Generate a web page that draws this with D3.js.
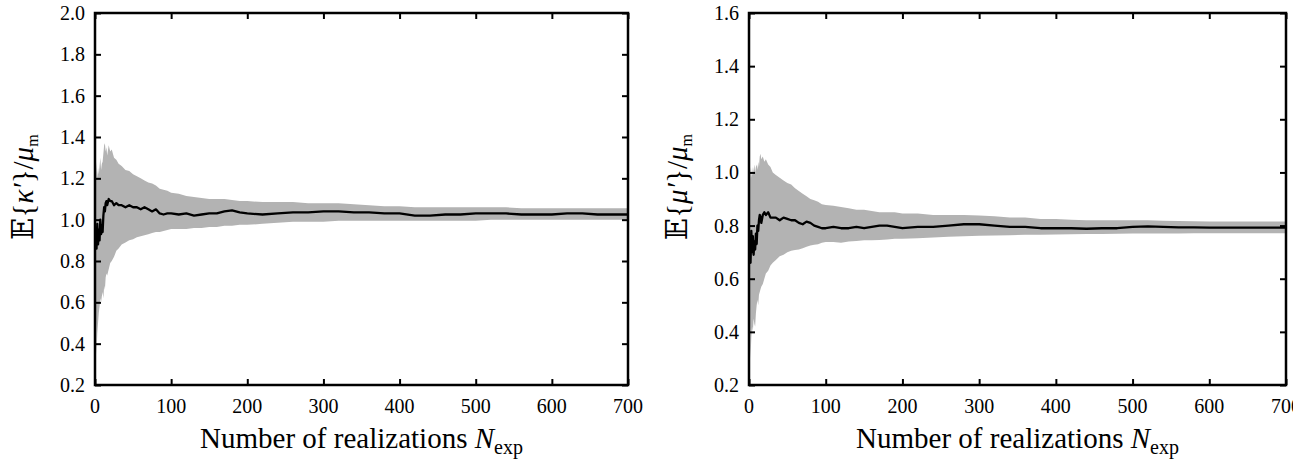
<!DOCTYPE html>
<html lang="en">
<head>
<meta charset="UTF-8">
<title>Convergence of E{kappa'} and E{mu'}</title>
<script src="https://d3js.org/d3.v7.min.js"></script>
<style>
    body { margin: 0; padding: 0; background: #fff; }
    svg { display: block; font-family: "Liberation Serif", "DejaVu Serif", serif; }
    .tick-label { font-size: 20px; fill: #000; }
    .axis-title { font-size: 29px; fill: #000; }
</style>
</head>
<body>
<svg id="chart" width="1293" height="466"></svg>
<script>
// Number of realizations (x values shared by both panels)
const realizations = [1, 2, 3, 4, 5, 6, 7, 8, 9, 10, 11, 12, 13, 14, 15, 16, 18, 20, 22, 25, 28, 31, 35, 40, 45, 50, 55, 60, 65, 70, 75, 80, 85, 90, 95, 100,
    110, 120, 130, 140, 150, 160, 170, 180, 190, 200, 220, 240, 260, 280, 300, 320, 340, 360, 380, 400, 420, 440, 460, 480, 500,
    520, 540, 560, 580, 600, 620, 640, 660, 680, 700];

// Left panel: E{kappa'}/mu_m, mean and shaded band
const kappaMean = [0.92, 0.86, 0.98, 0.88, 0.95, 0.90, 1.00, 0.93, 0.97, 0.94, 1.02, 1.06, 1.04, 1.08, 1.09, 1.07, 1.10, 1.09, 1.09, 1.07, 1.08, 1.07, 1.07, 1.06, 1.07, 1.06, 1.06, 1.05, 1.06, 1.05, 1.04, 1.05, 1.03, 1.025, 1.03, 1.03,
    1.025, 1.03, 1.02, 1.025, 1.03, 1.03, 1.04, 1.045, 1.035, 1.03, 1.025, 1.03, 1.035, 1.035, 1.04, 1.04, 1.035, 1.035, 1.03, 1.03, 1.02, 1.02, 1.025, 1.025, 1.03,
    1.03, 1.03, 1.025, 1.025, 1.025, 1.03, 1.03, 1.025, 1.025, 1.025];
const kappaHi = [1.15, 1.28, 1.20, 1.25, 1.22, 1.26, 1.30, 1.24, 1.27, 1.28, 1.32, 1.36, 1.37, 1.33, 1.35, 1.31, 1.36, 1.33, 1.34, 1.30, 1.29, 1.27, 1.26, 1.24, 1.235, 1.22, 1.21, 1.20, 1.19, 1.18, 1.175, 1.165, 1.15, 1.145, 1.14, 1.13,
    1.125, 1.115, 1.11, 1.105, 1.10, 1.10, 1.10, 1.095, 1.09, 1.09, 1.085, 1.085, 1.085, 1.08, 1.08, 1.08, 1.075, 1.07, 1.065, 1.065, 1.06, 1.06, 1.06, 1.06, 1.06,
    1.06, 1.06, 1.055, 1.055, 1.055, 1.055, 1.055, 1.055, 1.055, 1.055];
const kappaLo = [0.60, 0.35, 0.45, 0.50, 0.55, 0.58, 0.62, 0.60, 0.63, 0.65, 0.62, 0.68, 0.66, 0.72, 0.74, 0.73, 0.76, 0.79, 0.80, 0.82, 0.85, 0.86, 0.88, 0.89, 0.90, 0.905, 0.915, 0.92, 0.925, 0.93, 0.935, 0.94, 0.94, 0.945, 0.95, 0.955,
    0.955, 0.955, 0.96, 0.96, 0.965, 0.965, 0.97, 0.97, 0.975, 0.975, 0.98, 0.985, 0.99, 0.99, 0.99, 0.995, 0.995, 0.995, 0.995, 0.995, 0.995, 0.995, 0.995, 0.995, 0.995,
    1.0, 1.0, 1.0, 1.0, 1.0, 1.0, 1.0, 1.0, 1.0, 1.0];

// Right panel: E{mu'}/mu_m, mean and shaded band
const muMean = [0.72, 0.66, 0.78, 0.70, 0.76, 0.69, 0.74, 0.71, 0.77, 0.73, 0.80, 0.78, 0.82, 0.84, 0.83, 0.81, 0.84, 0.85, 0.84, 0.85, 0.83, 0.83, 0.83, 0.82, 0.83, 0.825, 0.82, 0.82, 0.81, 0.805, 0.815, 0.81, 0.80, 0.795, 0.79, 0.79,
    0.795, 0.79, 0.79, 0.795, 0.79, 0.795, 0.80, 0.80, 0.795, 0.79, 0.795, 0.795, 0.80, 0.805, 0.805, 0.80, 0.795, 0.795, 0.79, 0.79, 0.79, 0.788, 0.79, 0.79, 0.795,
    0.797, 0.795, 0.793, 0.793, 0.792, 0.792, 0.792, 0.792, 0.792, 0.792];
const muHi = [0.95, 1.02, 0.98, 1.02, 0.99, 1.01, 1.03, 1.00, 1.02, 1.03, 1.01, 1.04, 1.02, 1.06, 1.07, 1.05, 1.06, 1.04, 1.05, 1.03, 1.02, 1.00, 0.99, 0.98, 0.97, 0.96, 0.955, 0.94, 0.93, 0.92, 0.91, 0.90, 0.895, 0.89, 0.88, 0.877,
    0.875, 0.87, 0.865, 0.86, 0.86, 0.855, 0.85, 0.85, 0.85, 0.845, 0.845, 0.84, 0.84, 0.84, 0.838, 0.835, 0.83, 0.83, 0.825, 0.825, 0.822, 0.82, 0.82, 0.82, 0.82,
    0.82, 0.818, 0.817, 0.816, 0.815, 0.815, 0.815, 0.815, 0.815, 0.815];
const muLo = [0.50, 0.30, 0.38, 0.42, 0.40, 0.45, 0.43, 0.42, 0.47, 0.50, 0.52, 0.50, 0.54, 0.55, 0.56, 0.57, 0.58, 0.60, 0.62, 0.63, 0.65, 0.66, 0.67, 0.685, 0.69, 0.70, 0.705, 0.708, 0.71, 0.715, 0.72, 0.725, 0.728, 0.73, 0.735, 0.738,
    0.738, 0.735, 0.74, 0.742, 0.745, 0.745, 0.746, 0.748, 0.75, 0.75, 0.752, 0.755, 0.758, 0.76, 0.762, 0.763, 0.764, 0.765, 0.765, 0.766, 0.767, 0.768, 0.768, 0.769, 0.77,
    0.77, 0.77, 0.77, 0.771, 0.771, 0.771, 0.771, 0.771, 0.771, 0.771];

const xTicks = [0, 100, 200, 300, 400, 500, 600, 700];
const kappaTicks = [0.2, 0.4, 0.6, 0.8, 1.0, 1.2, 1.4, 1.6, 1.8, 2.0];
const muTicks = [0.2, 0.4, 0.6, 0.8, 1.0, 1.2, 1.4, 1.6];

const svg = d3.select("#chart");
const plotTop = 13, plotBottom = 385, tickLen = 6;

const drawPanel = (id, left, right, yMax, yTicks, mean, lo, hi, symbol) => {
    const x = d3.scaleLinear().domain([0, 700]).range([left, right]);
    const y = d3.scaleLinear().domain([0.2, yMax]).range([plotBottom, plotTop]);
    const data = realizations.map((n, i) => ({ n, m: mean[i], lo: lo[i], hi: hi[i] }));

    svg.append("clipPath").attr("id", "clip-" + id)
        .append("rect").attr("x", left).attr("y", plotTop).attr("width", right - left).attr("height", plotBottom - plotTop);

    const g = svg.append("g").attr("clip-path", `url(#clip-${id})`);

    // shaded band
    g.append("path")
        .datum(data)
        .attr("fill", "#b3b3b3")
        .attr("d", d3.area().x(d => x(d.n)).y0(d => y(d.lo)).y1(d => y(d.hi)));

    // mean line
    g.append("path")
        .datum(data)
        .attr("fill", "none")
        .attr("stroke", "#000")
        .attr("stroke-width", 2.3)
        .attr("stroke-linejoin", "round")
        .attr("d", d3.line().x(d => x(d.n)).y(d => y(d.m)));

    // inward ticks on all four sides
    const axes = svg.append("g");
    axes.append("g").attr("transform", `translate(0,${plotBottom})`)
        .call(d3.axisBottom(x).tickValues(xTicks).tickSize(-tickLen).tickFormat(""));
    axes.append("g").attr("transform", `translate(0,${plotTop})`)
        .call(d3.axisTop(x).tickValues(xTicks).tickSize(-tickLen).tickFormat(""));
    axes.append("g").attr("transform", `translate(${left},0)`)
        .call(d3.axisLeft(y).tickValues(yTicks).tickSize(-tickLen).tickFormat(""));
    axes.append("g").attr("transform", `translate(${right},0)`)
        .call(d3.axisRight(y).tickValues(yTicks).tickSize(-tickLen).tickFormat(""));
    axes.selectAll(".domain").remove();
    axes.selectAll(".tick line").attr("stroke", "#000").attr("stroke-width", 2);

    // frame
    svg.append("rect")
        .attr("x", left).attr("y", plotTop)
        .attr("width", right - left).attr("height", plotBottom - plotTop)
        .attr("fill", "none").attr("stroke", "#000").attr("stroke-width", 2.5);

    // tick labels
    svg.append("g").selectAll("text").data(xTicks).join("text")
        .attr("class", "tick-label")
        .attr("x", d => x(d)).attr("y", plotBottom + 28)
        .attr("text-anchor", "middle")
        .text(d => d);
    svg.append("g").selectAll("text").data(yTicks).join("text")
        .attr("class", "tick-label")
        .attr("x", left - 10).attr("y", d => y(d))
        .attr("dy", "0.35em")
        .attr("text-anchor", "end")
        .text(d => d.toFixed(1));

    // x title
    const xt = svg.append("text").attr("class", "axis-title")
        .attr("x", (left + right) / 2).attr("y", 448)
        .attr("text-anchor", "middle");
    xt.append("tspan").text("Number of realizations ");
    xt.append("tspan").attr("font-style", "italic").text("N");
    xt.append("tspan").attr("font-size", "20px").attr("dy", 6).text("exp");

    // y title
    const yt = svg.append("text").attr("class", "axis-title")
        .attr("font-size", "23px")
        .attr("transform", `translate(${left - 62},${(plotTop + plotBottom) / 2 - 12}) rotate(-90)`)
        .attr("text-anchor", "middle");
    yt.append("tspan").text("\u{1D53C}{");
    yt.append("tspan").attr("font-style", "italic").text(symbol + "\u2032");
    yt.append("tspan").text("}/");
    yt.append("tspan").attr("font-style", "italic").text("\u03BC");
    yt.append("tspan").attr("font-size", "16px").attr("dy", 5).text("m");
};

drawPanel("kappa", 95, 628, 2.0, kappaTicks, kappaMean, kappaLo, kappaHi, "\u03BA");
drawPanel("mu", 749, 1286, 1.6, muTicks, muMean, muLo, muHi, "\u03BC");
</script>
</body>
</html>
